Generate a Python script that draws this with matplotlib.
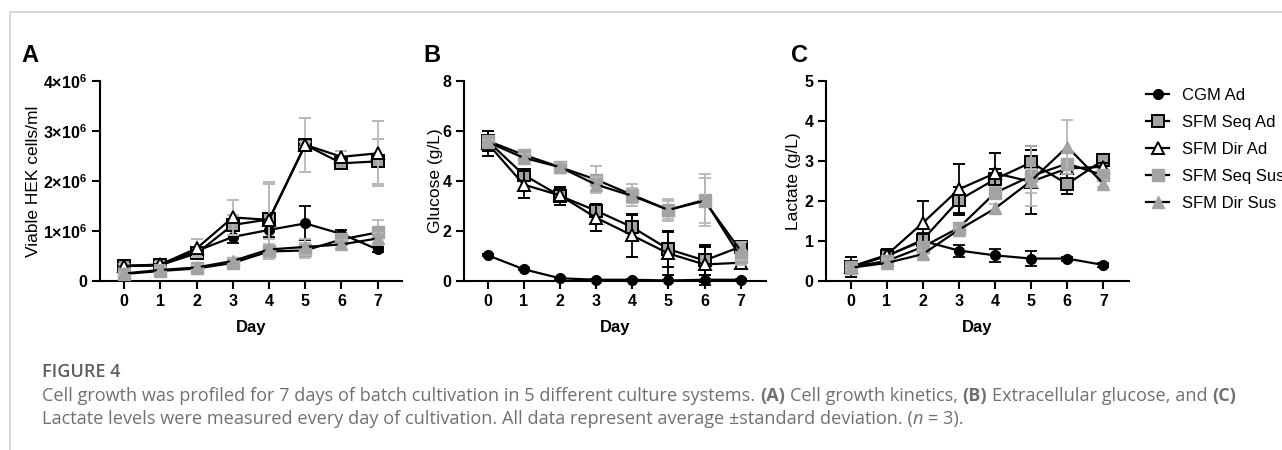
import matplotlib
matplotlib.use("Agg")
import matplotlib.pyplot as plt
from matplotlib.lines import Line2D
from matplotlib.ticker import FixedLocator, FuncFormatter

plt.rcParams['font.family'] = ['Liberation Sans', 'DejaVu Sans']
plt.rcParams['mathtext.fontset'] = 'custom'
plt.rcParams['mathtext.bf'] = 'Liberation Sans:bold'
plt.rcParams['mathtext.rm'] = 'Liberation Sans:bold'

# ---------------- data ----------------
days = [0, 1, 2, 3, 4, 5, 6, 7]
series_names = ["CGM Ad", "SFM Seq Ad", "SFM Dir Ad", "SFM Seq Sus", "SFM Dir Sus"]

# Panel A: viable cells (x10^6 cells/ml)
cgm_A = [0.30, 0.31, 0.60, 0.88, 1.02, 1.15, 0.94, 0.63]
cgm_A_sd = [0.05, 0.05, 0.06, 0.12, 0.15, 0.34, 0.08, 0.05]
seqad_A = [0.30, 0.32, 0.55, 1.12, 1.23, 2.72, 2.35, 2.39]
seqad_A_sd = [0.04, 0.05, 0.08, 0.20, 0.74, 0.54, 0.05, 0.45]
dirad_A = [0.30, 0.33, 0.65, 1.27, 1.22, 2.72, 2.48, 2.55]
dirad_A_sd = [0.04, 0.05, 0.18, 0.35, 0.71, 0.05, 0.12, 0.65]
seqsus_A = [0.14, 0.20, 0.25, 0.36, 0.59, 0.61, 0.83, 0.97]
seqsus_A_sd = [0.03, 0.12, 0.04, 0.06, 0.15, 0.15, 0.10, 0.25]
dirsus_A = [0.15, 0.22, 0.27, 0.40, 0.63, 0.68, 0.73, 0.85]
dirsus_A_sd = [0.03, 0.04, 0.04, 0.06, 0.20, 0.16, 0.08, 0.10]

# Panel B: glucose (g/L)
cgm_B = [1.03, 0.47, 0.11, 0.05, 0.05, 0.02, 0.05, 0.05]
cgm_B_sd = [0.05, 0.05, 0.03, 0.02, 0.02, 0.02, 0.20, 0.02]
seqad_B = [5.60, 4.24, 3.40, 2.81, 2.15, 1.27, 0.82, 1.37]
seqad_B_sd = [0.40, 0.25, 0.35, 0.25, 0.50, 0.72, 0.60, 0.15]
dirad_B = [5.50, 3.85, 3.42, 2.53, 1.82, 1.10, 0.66, 0.73]
dirad_B_sd = [0.50, 0.55, 0.25, 0.55, 0.85, 0.85, 0.70, 0.20]
seqsus_B = [5.60, 5.04, 4.55, 4.05, 3.44, 2.84, 3.24, 0.95]
seqsus_B_sd = [0.10, 0.10, 0.20, 0.55, 0.45, 0.45, 1.05, 0.30]
dirsus_B = [5.55, 4.92, 4.55, 3.85, 3.40, 2.84, 3.20, 1.20]
dirsus_B_sd = [0.10, 0.15, 0.15, 0.30, 0.30, 0.35, 0.90, 0.35]

# Panel C: lactate (g/L)
cgm_C = [0.35, 0.63, 1.00, 0.76, 0.64, 0.56, 0.56, 0.40]
cgm_C_sd = [0.05, 0.10, 0.20, 0.15, 0.17, 0.18, 0.05, 0.04]
seqad_C = [0.35, 0.62, 1.03, 2.02, 2.54, 2.96, 2.42, 3.02]
seqad_C_sd = [0.10, 0.10, 0.15, 0.33, 0.25, 0.40, 0.25, 0.08]
dirad_C = [0.35, 0.65, 1.45, 2.29, 2.69, 2.48, 2.81, 2.85]
dirad_C_sd = [0.25, 0.15, 0.55, 0.63, 0.50, 0.80, 0.15, 0.10]
seqsus_C = [0.35, 0.50, 0.85, 1.33, 2.20, 2.62, 2.93, 2.64]
seqsus_C_sd = [0.08, 0.10, 0.10, 0.08, 0.15, 0.75, 0.10, 0.12]
dirsus_C = [0.33, 0.45, 0.67, 1.28, 1.81, 2.50, 3.35, 2.43]
dirsus_C_sd = [0.05, 0.10, 0.10, 0.08, 0.10, 0.30, 0.68, 0.08]

panel_letters = ["A", "B", "C"]
ylabels = ["Viable HEK cells/ml", "Glucose (g/L)", "Lactate (g/L)"]
xlabel = "Day"
A_scale = 1e6
yticks_A = [0, 1, 2, 3, 4]
yticks_B = [0, 2, 4, 6, 8]
yticks_C = [0, 1, 2, 3, 4, 5]

caption_title = "FIGURE 4"
caption_line1 = [("Cell growth was profiled for 7 days of batch cultivation in 5 different culture systems. ", "normal", "normal"),
                 ("(A)", "bold", "normal"), (" Cell growth kinetics, ", "normal", "normal"),
                 ("(B)", "bold", "normal"), (" Extracellular glucose, and ", "normal", "normal"),
                 ("(C)", "bold", "normal")]
caption_line2 = [("Lactate levels were measured every day of cultivation. All data represent average \u00b1standard deviation. (", "normal", "normal"),
                 ("n", "normal", "italic"), (" = 3).", "normal", "normal")]

# ---------------- styles ----------------
GREY_FILL = "#a3a3a3"
GREY_LIGHT = "#b8b8b8"
styles = [
    dict(marker="o", ms=7, mfc="black", mec="black"),
    dict(marker="s", ms=8.5, mfc=GREY_FILL, mec="black", mew=1.4),
    dict(marker="^", ms=8.5, mfc="white", mec="black", mew=1.4),
    dict(marker="s", ms=8, mfc=GREY_FILL, mec=GREY_FILL),
    dict(marker="^", ms=8, mfc=GREY_FILL, mec=GREY_FILL),
]

W, H = 1282, 450
fig = plt.figure(figsize=(W / 100, H / 100), dpi=100)

def px_axes(left, right, bottom, top):
    return fig.add_axes([left / W, 1 - bottom / H, (right - left) / W, (bottom - top) / H])

axA = px_axes(99.5, 402.3, 281, 80.7)
axB = px_axes(464, 765.7, 281, 80.7)
axC = px_axes(826, 1129, 281, 80.7)

panels = [
    (axA, [cgm_A, seqad_A, dirad_A, seqsus_A, dirsus_A],
     [cgm_A_sd, seqad_A_sd, dirad_A_sd, seqsus_A_sd, dirsus_A_sd], A_scale, yticks_A, (-0.68, 7.68),
     ["black", GREY_LIGHT, GREY_LIGHT, GREY_LIGHT, GREY_LIGHT], 41),
    (axB, [cgm_B, seqad_B, dirad_B, seqsus_B, dirsus_B],
     [cgm_B_sd, seqad_B_sd, dirad_B_sd, seqsus_B_sd, dirsus_B_sd], 1, yticks_B, (-0.65, 7.69),
     ["black", "black", "black", GREY_LIGHT, GREY_LIGHT], 443),
    (axC, [cgm_C, seqad_C, dirad_C, seqsus_C, dirsus_C],
     [cgm_C_sd, seqad_C_sd, dirad_C_sd, seqsus_C_sd, dirsus_C_sd], 1, yticks_C, (-0.68, 7.71),
     ["black", "black", "black", GREY_LIGHT, GREY_LIGHT], 801),
]

handles = []
for i, (ax, vals, sds, scale, yt, xl, ecols, ylab_x) in enumerate(panels):
    for k in range(5):
        y = [v * scale for v in vals[k]]
        e = [s * scale for s in sds[k]]
        eb = ax.errorbar(days, y, yerr=e, color="black", lw=1.6, ecolor=ecols[k], elinewidth=1.3,
                         capsize=4, capthick=1.3, clip_on=False, zorder=3 + k, **styles[k])
        for art in eb.lines[1] + eb.lines[2]:
            art.set_clip_on(False)
    ax.set_xlim(*xl)
    ax.set_ylim(0, yt[-1] * scale)
    ax.xaxis.set_major_locator(FixedLocator(days))
    ax.yaxis.set_major_locator(FixedLocator([t * scale for t in yt]))
    for s in ["top", "right"]:
        ax.spines[s].set_visible(False)
    for s in ["left", "bottom"]:
        ax.spines[s].set_linewidth(1.5)
    ax.tick_params(direction="out", length=6, width=1.5, labelsize=11.5, pad=3)
    ax.set_xlabel(xlabel, fontsize=12, fontweight="bold", labelpad=8)
    ax.set_ylabel(ylabels[i], fontsize=12.5)
    bb = ax.get_position()
    ax.yaxis.set_label_coords((ylab_x / W - bb.x0) / bb.width, 0.5)

def fmtA(v, pos):
    n = int(round(v / 1e6))
    return "0" if n == 0 else r"$\mathbf{%d{\times}10^{6}}$" % n
axA.yaxis.set_major_formatter(FuncFormatter(fmtA))
for ax in (axA, axB, axC):
    for lab in ax.get_xticklabels() + ax.get_yticklabels():
        lab.set_fontweight("bold")

# panel letters
for x, letter in [(21, "A"), (423, "B"), (791, "C")]:
    fig.text(x / W, 1 - 55.5 / H, letter, fontsize=17, fontweight="bold", va="center", ha="left")

# legend
for k in range(5):
    handles.append(Line2D([0], [0], color="black", lw=1.6, **styles[k]))
fig.legend(handles, series_names, loc="upper left", bbox_to_anchor=(1146 / W, 1 - 87.5 / H),
           frameon=False, fontsize=12, handlelength=1.4, handletextpad=0.75, labelspacing=0.72,
           borderpad=0, borderaxespad=0)

# frame lines
fig.add_artist(Line2D([9.5 / W, 1], [1 - 12 / H, 1 - 12 / H], color="#d2d2d2", lw=1.2))
fig.add_artist(Line2D([9.5 / W, 9.5 / W], [0, 1 - 12 / H], color="#d2d2d2", lw=1.2))

# caption
CAP_FONT = ["Open Sans", "DejaVu Sans"]
CAP_COLOR = "#707070"
fig.text(42 / W, 1 - 372 / H, caption_title, fontsize=13, fontweight="semibold", color="#5e5e5e",
         family=CAP_FONT, va="center", ha="left")

renderer = fig.canvas.get_renderer()

def width_of(txt, **kw):
    t = fig.text(0, 0, txt, **kw)
    w = t.get_window_extent(renderer).width
    t.remove()
    return w

def rich(parts, x_px, y_px, fs):
    x = x_px
    base = dict(fontsize=fs, family=CAP_FONT)
    for txt, weight, style in parts:
        kw = dict(base, fontweight=weight, fontstyle=style)
        lead = len(txt) - len(txt.lstrip(" "))
        trail = len(txt) - len(txt.rstrip(" "))
        sp = width_of("x x", **kw) - width_of("xx", **kw)
        core = txt.strip(" ")
        x += lead * sp
        t = fig.text(x / W, 1 - y_px / H, core, color=CAP_COLOR, va="center", ha="left", **kw)
        x += t.get_window_extent(renderer).width + trail * sp

rich(caption_line1, 42, 396, 13.1)
rich(caption_line2, 42, 419, 13.1)

fig.savefig("out.png", dpi=100)
